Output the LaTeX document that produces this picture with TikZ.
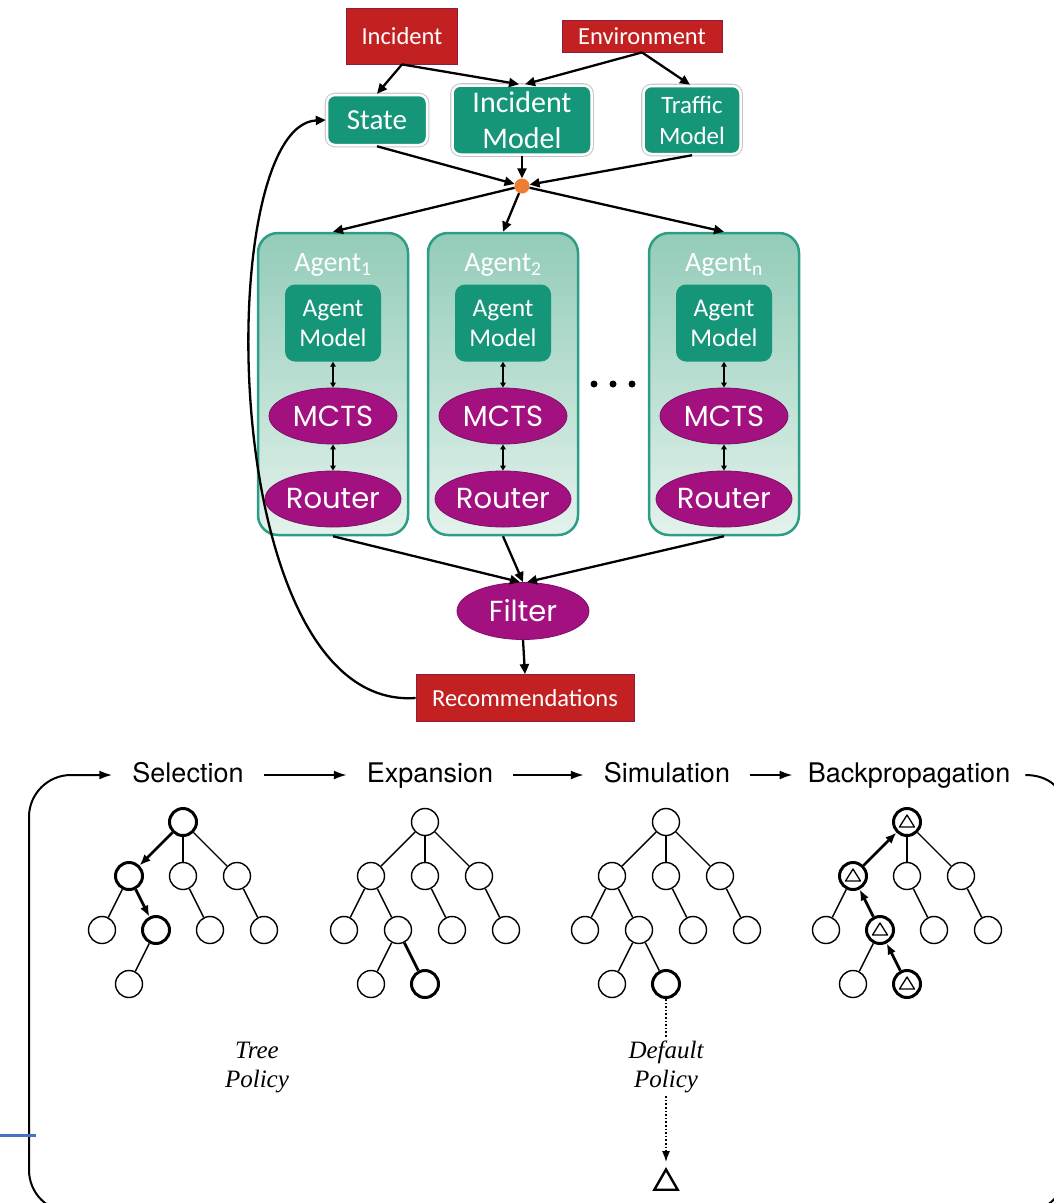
\documentclass[tikz,border=0pt]{standalone}
\usepackage{fontspec}
\setmainfont{Carlito}
\newfontfamily\geofont{Poppins}
\newfontfamily\labfont{TeX Gyre Heros}
\newfontfamily\polfont{Liberation Serif}
\usetikzlibrary{arrows.meta,shapes.geometric,calc}

\definecolor{alarm}{HTML}{C32121}
\definecolor{alarmedge}{HTML}{8E1D3B}
\definecolor{modelgreen}{HTML}{159679}
\definecolor{agentedge}{HTML}{2E9D86}
\definecolor{agenttop}{HTML}{93CCB8}
\definecolor{agentbottom}{HTML}{E3F2EC}
\definecolor{plum}{HTML}{A3107F}
\definecolor{plumedge}{HTML}{7E0F66}
\definecolor{junction}{HTML}{ED7D31}
\definecolor{rulecol}{HTML}{4472C4}

% one search tree: root, three children, four grandchildren, one great-grandchild
\newcommand\mctstree[2]{%
  \node[tnode, #1 r/.try]   (#1r)   at (#2,822) {};
  \node[tnode, #1 a/.try]   (#1a)   at (#2-54,876) {};
  \node[tnode, #1 b/.try]   (#1b)   at (#2,876) {};
  \node[tnode, #1 c/.try]   (#1c)   at (#2+54,876) {};
  \node[tnode, #1 aa/.try]  (#1aa)  at (#2-81,930) {};
  \node[tnode, #1 ab/.try]  (#1ab)  at (#2-27,930) {};
  \node[tnode, #1 ba/.try]  (#1ba)  at (#2+27,930) {};
  \node[tnode, #1 ca/.try]  (#1ca)  at (#2+81,930) {};
  \node[tnode, #1 aba/.try] (#1aba) at (#2-54,984) {};
  \draw[tedge, #1 e ra/.try]   (#1r) -- (#1a);
  \draw[tedge] (#1r) -- (#1b);
  \draw[tedge] (#1r) -- (#1c);
  \draw[tedge] (#1a) -- (#1aa);
  \draw[tedge, #1 e aab/.try]  (#1a) -- (#1ab);
  \draw[tedge] (#1b) -- (#1ba);
  \draw[tedge] (#1c) -- (#1ca);
  \draw[tedge] (#1ab) -- (#1aba);
}
% the second child of the expanded node
\newcommand\mctsleaf[2]{%
  \node[tnode, #1 abb/.try] (#1abb) at (#2,984) {};
  \draw[tedge, #1 e ababb/.try] (#1ab) -- (#1abb);
}
% value mark inside a node
\newcommand\valuemark[1]{%
  \draw[line width=1.3pt, line join=round]
    ([shift={(0,-7)}]#1.center) -- ([shift={(-7.5,5)}]#1.center)
    -- ([shift={(7.5,5)}]#1.center) -- cycle;
}

\begin{document}
\begin{tikzpicture}[x=1pt,y=-1pt,
  redbox/.style={rectangle, fill=alarm, draw=alarmedge, line width=0.8pt,
    text=white, font=\fontsize{24.5}{28}\selectfont, inner sep=0pt},
  greenbox/.style={rectangle, rounded corners=8pt, fill=modelgreen, draw=white,
    line width=2.5pt, text=white, align=center, inner sep=0pt,
    preaction={draw=black!22, line width=4.6pt}},
  innerbox/.style={rectangle, rounded corners=10pt, fill=modelgreen, text=white,
    align=center, inner sep=0pt, minimum width=96pt, minimum height=77pt,
    font=\fontsize{25.5}{30}\selectfont},
  agentbox/.style={rectangle, rounded corners=20pt, top color=agenttop,
    bottom color=agentbottom, draw=agentedge, line width=2.5pt,
    minimum width=150pt, minimum height=302pt, inner sep=0pt},
  agenttitle/.style={text=white, font=\fontsize{28}{30}\selectfont, inner sep=0pt},
  purp/.style={ellipse, fill=plum, draw=plumedge, line width=0.8pt, text=white,
    font=\geofont\fontsize{29}{30}\selectfont, inner sep=0pt, minimum height=56pt},
  arr/.style={-{Triangle[length=10pt,width=9pt]}, line width=2.3pt},
  twoway/.style={{Triangle[length=5pt,width=5.5pt]}-{Triangle[length=5pt,width=5.5pt]}, line width=1.7pt},
  lab/.style={font=\labfont\fontsize{27}{32}\selectfont, inner xsep=20pt, inner ysep=4pt,
    text height=20pt, text depth=6pt},
  flow/.style={-{Latex[length=13pt,width=9pt]}, line width=2pt},
  tnode/.style={circle, draw, fill=white, line width=1.4pt, minimum size=27pt, inner sep=0pt},
  boldnode/.style={line width=3pt},
  tedge/.style={line width=1.4pt},
  boldedge/.style={line width=2.8pt},
  down/.style={boldedge, -{Latex[length=11pt,width=9pt]}},
  up/.style={boldedge, {Latex[length=11pt,width=9pt]}-},
  policy/.style={font=\polfont\itshape\fontsize{25}{29}\selectfont, align=center, inner sep=3pt},
  % highlighted parts of each tree
  sel r/.style={boldnode}, sel a/.style={boldnode}, sel ab/.style={boldnode},
  sel e ra/.style={down}, sel e aab/.style={down},
  exp abb/.style={boldnode}, exp e ababb/.style={boldedge},
  sim abb/.style={boldnode},
  bp r/.style={boldnode}, bp a/.style={boldnode}, bp ab/.style={boldnode}, bp abb/.style={boldnode},
  bp e ra/.style={up}, bp e aab/.style={up}, bp e ababb/.style={up},
]
\useasboundingbox (0,0) rectangle (1053,1203);

% ---------------- system architecture ----------------
\node[redbox, minimum width=111pt, minimum height=56pt] (inc) at (402,36) {Incident};
\node[redbox, minimum width=160pt, minimum height=32pt] (env) at (642,36) {Environment};

\node[greenbox, minimum width=100pt, minimum height=50pt, font=\fontsize{29}{34}\selectfont]
  (state) at (377,120) {State};
\node[greenbox, minimum width=139pt, minimum height=69pt, font=\fontsize{30}{36}\selectfont]
  (im) at (522,120) {Incident\\Model};
\node[greenbox, minimum width=97pt, minimum height=68pt, font=\fontsize{25}{31}\selectfont]
  (tm) at (692,120) {Traffic\\Model};

\node[circle, fill=junction, minimum size=15pt, inner sep=0pt] (hub) at (522,186) {};

\draw[arr] (inc.south) -- (state.north);
\draw[arr] (inc.south) -- ([xshift=-3pt]im.north);
\draw[arr] (env.south) -- ([xshift=3pt]im.north);
\draw[arr] (env.south) -- ([xshift=-2pt]tm.north);
\draw[arr] (state.south) -- (hub);
\draw[arr] (im.south) -- (hub);
\draw[arr] (tm.south) -- (hub);

% agents
\foreach \k/\x/\sub in {1/333/1, 2/503/2, n/724/n}{
  \node[agentbox] (ag\k) at (\x,384) {};
  \node[agenttitle] (agt\k) at (\x,265) {Agent\textsubscript{\sub}};
  \node[innerbox] (agm\k) at (\x,323) {Agent\\Model};
  \node[purp, minimum width=128pt] (mcts\k) at (\x,416) {MCTS};
  \node[purp, minimum width=136pt] (rt\k) at (\x,499) {Router};
  \draw[twoway] (agm\k.south) -- (mcts\k.north);
  \draw[twoway] (mcts\k.south) -- (rt\k.north);
  \draw[arr] (hub) -- (ag\k.north);
}

\foreach \i/\x in {1/594, 2/613, 3/632}
  \node[circle, fill=black, minimum size=7pt, inner sep=0pt] (more\i) at (\x,384) {};

\node[purp, minimum width=132pt, minimum height=57pt] (filt) at (523,611) {Filter};
\node[redbox, minimum width=218pt, minimum height=47pt] (rec) at (525,698) {Recommendations};

\draw[arr] (ag1.south) -- ([xshift=-3pt]filt.north);
\draw[arr] (ag2.south) -- (filt.north);
\draw[arr] (agn.south) -- ([xshift=4pt]filt.north);
\draw[arr] (filt.south) -- (rec.north);
\draw[arr] (rec.west) .. controls (215,712) and (212,125) .. (state.west);

% ---------------- search cycle ----------------
\node[lab] (sel) at (188,775) {Selection};
\node[lab] (exp) at (430,775) {Expansion};
\node[lab] (sim) at (667,775) {Simulation};
\node[lab, inner xsep=15pt] (bp) at (909,775) {Backpropagation};

\draw[flow] (sel) -- (exp);
\draw[flow] (exp) -- (sim);
\draw[flow] (sim) -- (bp);
\draw[flow] (bp.east) .. controls (1048,775) and (1066,788) .. (1066,815)
  [rounded corners=42pt] -- (1066,1212) -- (29,1212) -- (29,775) -- (sel.west);

\mctstree{sel}{183}
\mctstree{exp}{425}
\mctsleaf{exp}{425}
\mctstree{sim}{666}
\mctsleaf{sim}{666}
\mctstree{bp}{907}
\mctsleaf{bp}{907}

\valuemark{bpr}
\valuemark{bpa}
\valuemark{bpab}
\valuemark{bpabb}

\node[policy] (tp) at (257,1067) {Tree\\Policy};
\node[policy] (dp) at (666,1067) {Default\\Policy};
\node[regular polygon, regular polygon sides=3, draw, line width=2.4pt,
  minimum size=27pt, inner sep=0pt] (outcome) at (666,1183) {};

\draw[dotted, line width=1.6pt] (simabb) -- (dp);
\draw[dotted, line width=1.6pt, -{Latex[length=11pt,width=8pt]}, shorten >=5pt] (dp) -- (outcome.north);

% short blue rule at the left edge
\draw[rulecol, line width=3pt] (0,1135) -- (36,1135);
\end{tikzpicture}
\end{document}
